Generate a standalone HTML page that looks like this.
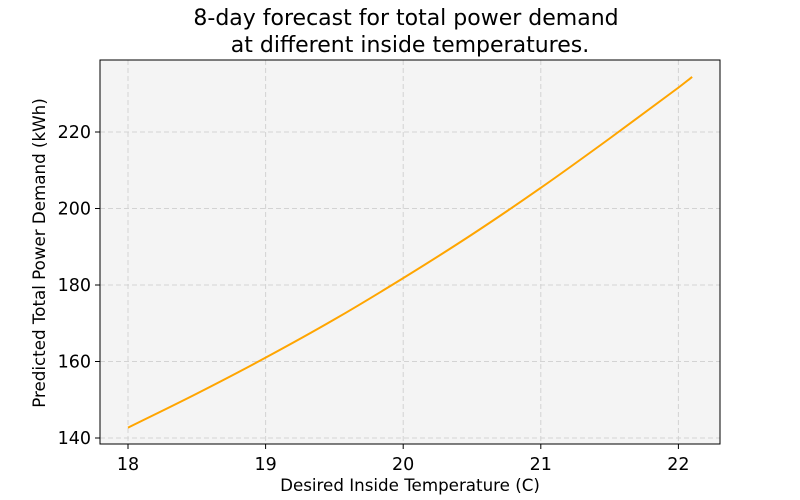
<!DOCTYPE html>
<html><head><meta charset="utf-8"><style>
body{margin:0;background:#fff;}
svg{display:block;font-family:"DejaVu Sans","Liberation Sans",sans-serif;}
</style></head><body>
<svg id="chart" width="800" height="500">
<text x="406" y="25" text-anchor="middle" font-size="22">8-day forecast for total power demand</text>
<text x="410" y="52" text-anchor="middle" font-size="22">at different inside temperatures.</text>
<rect x="100" y="60" width="620" height="384" fill="#f4f4f4"/>
<g id="grid"></g>
<g id="ticks"></g>
<path id="line" fill="none" stroke="#ffa500" stroke-width="2"/>
<rect x="100" y="60" width="620" height="384" fill="none" stroke="#000" stroke-width="1"/>
<text x="410" y="491" text-anchor="middle" font-size="16.7">Desired Inside Temperature (C)</text>
<text transform="translate(45,253) rotate(-90)" text-anchor="middle" font-size="16.7">Predicted Total Power Demand (kWh)</text>
</svg>
<script>
const temps=[18,18.5,19,19.5,20,20.5,21,21.5,22,22.1];
const demand=[142.7,151.6,161.0,171.0,181.8,193.2,205.4,218.3,231.6,234.4];
const xTicks=[18,19,20,21,22];
const yTicks=[140,160,180,200,220];
const NS="http://www.w3.org/2000/svg";
const xs=v=>128+(v-18)*137.6;
const ys=v=>438-(v-140)*3.825;
const grid=document.getElementById('grid'),ticks=document.getElementById('ticks');
function mk(t,a,p){const e=document.createElementNS(NS,t);for(const k in a)e.setAttribute(k,a[k]);p.appendChild(e);return e;}
xTicks.forEach(v=>{
 const g=mk('line',{x1:xs(v),x2:xs(v),y1:60,y2:444,stroke:'#d3d3d3','stroke-dasharray':'5,3'},grid);
 
 
 const t=mk('line',{x1:xs(v),x2:xs(v),y1:444,y2:449,stroke:'#000'},ticks);
 
 
 const l=mk('text',{x:xs(v),y:470,'text-anchor':'middle','font-size':'17.5'},ticks);l.textContent=v;
 
 
});
yTicks.forEach(v=>{
 const g=mk('line',{x1:100,x2:720,y1:ys(v),y2:ys(v),stroke:'#d3d3d3','stroke-dasharray':'5,3'},grid);
 
 
 const t=mk('line',{x1:95,x2:100,y1:ys(v),y2:ys(v),stroke:'#000'},ticks);
 
 
 const l=mk('text',{x:91,y:ys(v)+6,'text-anchor':'end','font-size':'17.5'},ticks);l.textContent=v;
 
 
});
const P=temps.map((t,i)=>[xs(t),ys(demand[i])]);
const n=P.length;
const m=P.map((p,i)=>{
 const a=P[Math.max(0,i-1)],b=P[Math.min(n-1,i+1)];
 return (b[1]-a[1])/(b[0]-a[0]);
});
let d='M'+P[0][0]+','+P[0][1];
for(let i=0;i<n-1;i++){
 const p1=P[i],p2=P[i+1],h=(p2[0]-p1[0])/3;
 d+=` C${p1[0]+h},${p1[1]+m[i]*h} ${p2[0]-h},${p2[1]-m[i+1]*h} ${p2[0]},${p2[1]}`;
}
document.getElementById('line').setAttribute('d',d);
</script>
</body></html>
